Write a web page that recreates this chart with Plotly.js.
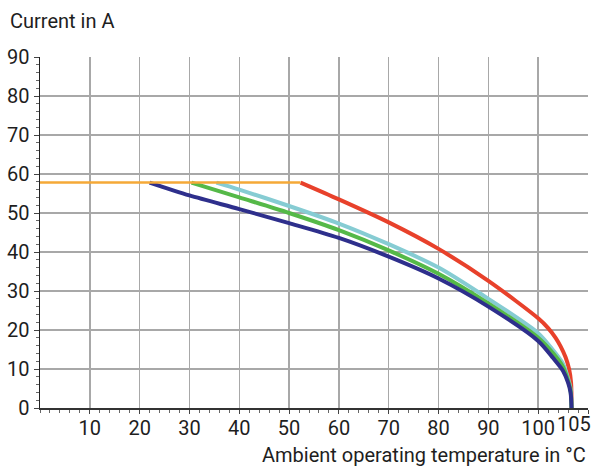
<!DOCTYPE html>
<html>
<head>
<meta charset="utf-8">
<script src="https://cdn.plot.ly/plotly-3.0.1.min.js"></script>
<style>
  html, body { margin: 0; padding: 0; background: #ffffff; }
  #chart { width: 592px; height: 471px; }
</style>
</head>
<body>
<div id="chart"></div>
<script>
// Ambient temperature (°C) and current (A)
const tempOrange = [0, 52.3];
const currOrange = [57.8, 57.8];

const tempRed = [52.3, 60, 70, 80, 90, 100, 102, 103.5, 104.5, 105.5, 106.2, 106.6, 106.7];
const currRed = [57.8, 53.5, 47.6, 40.8, 32.6, 23.0, 20.5, 18.0, 15.8, 13.0, 10.0, 6.5, 0];

const tempCyan = [35.4, 40, 50, 60, 70, 80, 90, 100, 103, 105, 106, 106.5, 106.7];
const currCyan = [57.8, 56.0, 51.8, 47.3, 42.0, 36.0, 28.0, 19.2, 14.8, 11.3, 7.6, 5, 0];

const tempGreen = [30.4, 40, 50, 60, 70, 80, 90, 100, 103, 105, 106, 106.5, 106.7];
const currGreen = [57.8, 54.0, 50.0, 45.6, 40.4, 34.4, 26.8, 18.0, 14, 10.5, 7, 4.5, 0];

const tempBlue = [22, 30, 40, 50, 60, 70, 80, 90, 100, 103, 105, 106, 106.5, 106.7];
const currBlue = [57.8, 54.5, 51.0, 47.4, 43.6, 38.8, 33.2, 26.0, 17.2, 12.8, 9.5, 6.5, 4, 0];

const xTickVals = [10, 20, 30, 40, 50, 60, 70, 80, 90, 100, 110];
const xTickText = ['10', '20', '30', '40', '50', '60', '70', '80', '90', '100', ''];
const yTickVals = [0, 10, 20, 30, 40, 50, 60, 70, 80, 90];

const FONT = 'Roboto, "Liberation Sans", sans-serif';
const TXT = '#1e1e1e';

function curve(x, y, color, width) {
  return {
    type: 'scatter', mode: 'lines', x: x, y: y,
    line: { color: color, width: width, shape: 'spline', smoothing: 0.8 },
    hoverinfo: 'skip', showlegend: false
  };
}

const data = [
  curve(tempRed, currRed, '#e8412b', 4),
  curve(tempCyan, currCyan, '#86ccd3', 4),
  curve(tempGreen, currGreen, '#55b948', 4),
  curve(tempBlue, currBlue, '#2e2f8c', 4),
  { type: 'scatter', mode: 'lines', x: tempOrange, y: currOrange,
    line: { color: '#f5a937', width: 2.5 }, hoverinfo: 'skip', showlegend: false }
];

const layout = {
  width: 592, height: 471,
  margin: { l: 40, r: 4, t: 57, b: 63 },
  paper_bgcolor: '#ffffff', plot_bgcolor: '#ffffff',
  font: { family: FONT, size: 20, color: TXT },
  title: { text: 'Current in A', xref: 'container', yref: 'container',
           x: 10 / 592, xanchor: 'left', y: 1 - 21 / 471, yanchor: 'middle',
           font: { family: FONT, size: 20, color: TXT } },
  xaxis: {
    range: [0, 110], tickmode: 'array', tickvals: xTickVals, ticktext: xTickText,
    tickangle: 0, ticks: 'outside', ticklen: 4, tickcolor: '#444', tickwidth: 1,
    ticklabelstandoff: -3,
    showline: true, linecolor: '#333', linewidth: 1.5,
    showgrid: true, gridcolor: '#a8a8a8', gridwidth: 1.5, zeroline: false,
    tickfont: { family: FONT, size: 20, color: TXT },
    minor: { dtick: 2, ticks: 'outside', ticklen: 3, tickcolor: '#666', showgrid: false },
    fixedrange: true
  },
  yaxis: {
    range: [0, 90], tickmode: 'array', tickvals: yTickVals,
    ticks: 'outside', ticklen: 5, tickcolor: '#444', tickwidth: 1,
    showline: true, linecolor: '#222', linewidth: 1.5,
    showgrid: true, gridcolor: '#a8a8a8', gridwidth: 1.5, zeroline: false,
    tickfont: { family: FONT, size: 20, color: TXT },
    minor: { dtick: 2, ticks: 'outside', ticklen: 3, tickcolor: '#666', showgrid: false },
    fixedrange: true
  },
  annotations: [
    { text: '105', xref: 'x', yref: 'paper', x: 105, y: 0, xanchor: 'center', yanchor: 'top',
      xshift: 11, yshift: -2, showarrow: false, font: { family: FONT, size: 20, color: TXT } },
    { text: 'Ambient operating temperature in °C', xref: 'paper', yref: 'paper', x: 1, y: 0,
      xanchor: 'right', yanchor: 'middle', yshift: -47, showarrow: false,
      font: { family: FONT, size: 20, color: TXT } }
  ]
};

Plotly.newPlot('chart', data, layout, { displayModeBar: false, staticPlot: true });
</script>
</body>
</html>
